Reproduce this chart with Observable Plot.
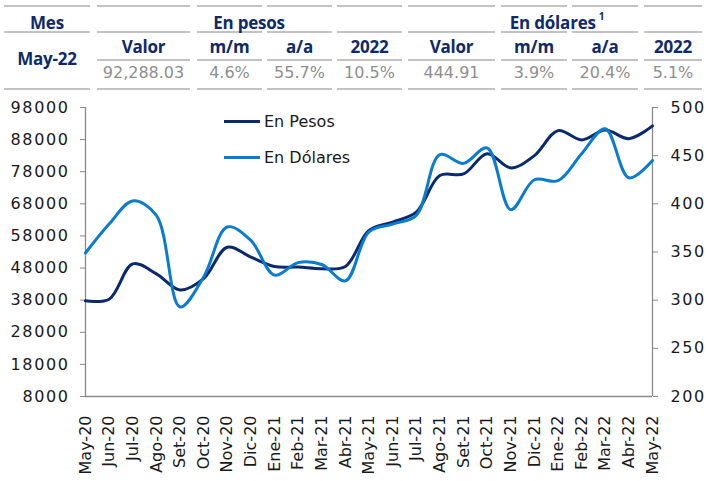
<!DOCTYPE html>
<html>
<head>
<meta charset="utf-8">
<script src="https://cdn.jsdelivr.net/npm/d3@7"></script>
<script src="https://cdn.jsdelivr.net/npm/@observablehq/plot@0.6"></script>
<style>
  html, body { margin: 0; padding: 0; background: #fff; }
  #wrap { position: relative; width: 707px; height: 481px; overflow: hidden; background: #fff; }
  .hl { position: absolute; height: 2px; background: #c3c3c3; }
  .t { position: absolute; transform: translate(-50%, -50%); white-space: nowrap; }
  .hd { font-family: "Open Sans", sans-serif; font-weight: 700; font-size: 17px; color: #0e2a6a; letter-spacing: -0.2px; }
  .vl { font-family: "DejaVu Sans", sans-serif; font-size: 16px; color: #8e8e8e; }
  .lg { position: absolute; font-family: "DejaVu Sans", sans-serif; font-size: 16px; color: #1a1a1a; }
  .lgline { position: absolute; height: 3px; }
  #plot { position: absolute; left: 0; top: 90px; }
</style>
</head>
<body>
<div id="wrap">
  <div id="table"></div>
  <div id="plot"></div>
  <div id="legend"></div>
</div>
<script>
// ---- Data ----
const mesLabel = "Mes";
const mesValue = "May-22";
const groupLabels = ["En pesos", "En dólares"];
const colLabels = ["Valor", "m/m", "a/a", "2022", "Valor", "m/m", "a/a", "2022"];
const colValues = ["92,288.03", "4.6%", "55.7%", "10.5%", "444.91", "3.9%", "20.4%", "5.1%"];

const months = ["May-20","Jun-20","Jul-20","Ago-20","Set-20","Oct-20","Nov-20","Dic-20","Ene-21","Feb-21","Mar-21","Abr-21","May-21","Jun-21","Jul-21","Ago-21","Set-21","Oct-21","Nov-21","Dic-21","Ene-22","Feb-22","Mar-22","Abr-22","May-22"];
const enPesos = [37800, 38300, 49300, 46200, 41200, 44700, 54500, 51400, 48500, 48300, 47800, 48500, 59700, 62300, 65400, 76800, 77300, 83600, 79200, 83000, 90800, 87900, 91000, 88300, 92288];
const enDolares = [349, 379, 403, 388, 293, 324, 376, 362, 326, 339, 337, 320, 371, 379, 388, 451, 442, 458, 394, 425, 424, 452, 478, 427, 445];
const leftTicks = [8000, 18000, 28000, 38000, 48000, 58000, 68000, 78000, 88000, 98000];
const rightTicks = [200, 250, 300, 350, 400, 450, 500];
const seriesNames = ["En Pesos", "En Dólares"];
const colors = ["#0b2a6e", "#0a7ccf"];

// ---- Table (HTML) ----
const T = document.getElementById("table");
function line(x0, x1, y) { const d = document.createElement("div"); d.className = "hl"; d.style.left = x0 + "px"; d.style.width = (x1 - x0) + "px"; d.style.top = (y - 1) + "px"; T.appendChild(d); }
function txt(s, cls, cx, cy, html) { const d = document.createElement("div"); d.className = "t " + cls; d.style.left = cx + "px"; d.style.top = cy + "px"; if (html) d.innerHTML = s; else d.textContent = s; T.appendChild(d); }
const cols = [[4,90],[97,190],[197,262],[267,332],[337,402],[408,495],[501,567],[572,638],[644,702]];
cols.forEach(([a,b]) => { line(a, b, 6); line(a, b, 32); line(a, b, 89); });
cols.slice(1).forEach(([a,b]) => line(a, b, 60));
txt(mesLabel, "hd", 47, 22);
txt(mesValue, "hd", 47, 58);
txt(groupLabels[0], "hd", 249, 22);
txt(groupLabels[1] + '<sup style="font-size:10px;position:relative;top:-2px;margin-left:3px">1</sup>', "hd", 557, 22, true);
colLabels.forEach((s, i) => { const [a,b] = cols[i+1]; txt(s, "hd", (a+b)/2, 46); });
colValues.forEach((s, i) => { const [a,b] = cols[i+1]; txt(s, "vl", (a+b)/2, 72); });

// ---- Chart ----
const toLeft = v => leftTicks[0] + (v - rightTicks[0]) * (leftTicks[leftTicks.length-1] - leftTicks[0]) / (rightTicks[rightTicks.length-1] - rightTicks[0]);
const pesosData = months.map((m, i) => ({month: m, value: enPesos[i]}));
const dolaresData = months.map((m, i) => ({month: m, value: toLeft(enDolares[i])}));

const chart = Plot.plot({
  width: 707,
  height: 391,
  marginTop: 17,
  marginBottom: 85,
  marginLeft: 85,
  marginRight: 55,
  style: {fontFamily: "DejaVu Sans, sans-serif", fontSize: "16px", color: "#1a1a1a", background: "transparent"},
  x: {type: "point", domain: months, padding: 0, round: false, label: null},
  y: {domain: [leftTicks[0], leftTicks[leftTicks.length-1]], label: null},
  marks: [
    Plot.ruleY([leftTicks[0]], {stroke: "#8a8a8a", strokeWidth: 1.3}),
    Plot.ruleX([months[0]], {stroke: "#8a8a8a", strokeWidth: 1.3}),
    Plot.ruleX([months[months.length-1]], {stroke: "#8a8a8a", strokeWidth: 1.3}),
    Plot.axisY(leftTicks, {anchor: "left", tickSize: 5, tickPadding: 11, tickFormat: d => String(d), stroke: "#8a8a8a", fill: "#1a1a1a", fontSize: 16, label: null}),
    Plot.axisY(rightTicks.map(toLeft), {anchor: "right", tickSize: 5, tickPadding: 13, tickFormat: d => String(Math.round(rightTicks[0] + (d - leftTicks[0]) * (rightTicks[rightTicks.length-1]-rightTicks[0]) / (leftTicks[leftTicks.length-1]-leftTicks[0]))), stroke: "#8a8a8a", fill: "#1a1a1a", fontSize: 16, label: null}),
    Plot.axisX({tickRotate: -90, tickSize: 0, tickPadding: 19, fill: "#1a1a1a", fontSize: 16, label: null}),
    Plot.line(pesosData, {x: "month", y: "value", stroke: colors[0], strokeWidth: 3, curve: "catmull-rom"}),
    Plot.line(dolaresData, {x: "month", y: "value", stroke: colors[1], strokeWidth: 3, curve: "catmull-rom"})
  ]
});
document.getElementById("plot").appendChild(chart);
chart.querySelectorAll('[aria-label="y-axis tick label"]').forEach(g => g.setAttribute("letter-spacing", "1.6"));

// ---- Legend (HTML overlay) ----
const L = document.getElementById("legend");
seriesNames.forEach((name, i) => {
  const y = 121.5 + i * 36;
  const ln = document.createElement("div"); ln.className = "lgline";
  ln.style.left = "224px"; ln.style.width = "36px"; ln.style.top = (y - 1.5) + "px"; ln.style.background = colors[i];
  L.appendChild(ln);
  const t = document.createElement("div"); t.className = "lg"; t.textContent = name;
  t.style.left = "264px"; t.style.top = (y - 10) + "px"; t.style.lineHeight = "20px";
  L.appendChild(t);
});
</script>
</body>
</html>
